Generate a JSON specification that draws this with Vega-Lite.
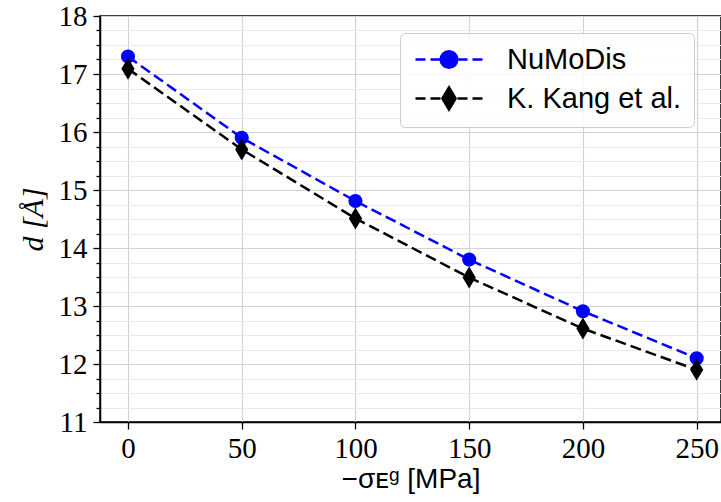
{
  "$schema": "https://vega.github.io/schema/vega-lite/v6.json",
  "width": 621,
  "height": 406,
  "autosize": "none",
  "padding": {"left": 100, "top": 16, "right": 0, "bottom": 80},
  "background": "white",
  "config": {
    "view": {"stroke": "black", "strokeWidth": 1.5},
    "axis": {
      "domainColor": "black", "domainWidth": 1.5,
      "tickColor": "black", "tickWidth": 1.3,
      "labelFont": "Liberation Serif", "labelFontSize": 29, "labelColor": "black",
      "titleFont": "Liberation Sans", "titleFontSize": 28, "titleColor": "black", "titleFontWeight": "normal"
    }
  },
  "data": {"values": [
    {"x": 0, "d": 17.3, "series": "NuMoDis"},
    {"x": 50, "d": 15.9, "series": "NuMoDis"},
    {"x": 100, "d": 14.81, "series": "NuMoDis"},
    {"x": 150, "d": 13.8, "series": "NuMoDis"},
    {"x": 200, "d": 12.91, "series": "NuMoDis"},
    {"x": 250, "d": 12.1, "series": "NuMoDis"},
    {"x": 0, "d": 17.09, "series": "K. Kang et al."},
    {"x": 50, "d": 15.7, "series": "K. Kang et al."},
    {"x": 100, "d": 14.51, "series": "K. Kang et al."},
    {"x": 150, "d": 13.49, "series": "K. Kang et al."},
    {"x": 200, "d": 12.61, "series": "K. Kang et al."},
    {"x": 250, "d": 11.9, "series": "K. Kang et al."}
  ]},
  "encoding": {
    "x": {
      "field": "x", "type": "quantitative",
      "scale": {"domain": [-12.3, 260.7], "nice": false, "zero": false},
      "axis": {
        "values": [0, 50, 100, 150, 200, 250],
        "format": "d",
        "labelFont": "Liberation Serif", "labelFontSize": 29,
        "title": "−σᴇᵍ [MPa]",
        "titleFont": "Liberation Sans", "titleFontSize": 28,
        "grid": true, "gridColor": "#d2d2d2", "gridWidth": 1.2,
        "tickSize": 7, "labelPadding": 5, "titlePadding": 2
      }
    },
    "y": {
      "field": "d", "type": "quantitative",
      "scale": {"domain": [11, 18], "nice": false, "zero": false},
      "axis": {
        "values": [11, 11.25, 11.5, 11.75, 12, 12.25, 12.5, 12.75, 13, 13.25, 13.5, 13.75, 14, 14.25, 14.5, 14.75, 15, 15.25, 15.5, 15.75, 16, 16.25, 16.5, 16.75, 17, 17.25, 17.5, 17.75, 18],
        "labelExpr": "datum.value % 1 === 0 ? format(datum.value, 'd') : ''",
        "labelFont": "Liberation Serif", "labelFontSize": 29,
        "title": "d [Å]", "titleFont": "Liberation Serif", "titleFontStyle": "italic", "titleFontSize": 30,
        "grid": true,
        "gridColor": {"condition": {"test": "datum.value % 1 === 0", "value": "#d2d2d2"}, "value": "#ebebeb"},
        "gridWidth": 1.2,
        "tickSize": {"condition": {"test": "datum.value % 1 === 0", "value": 7}, "value": 4},
        "labelPadding": 6, "titlePadding": 10
      }
    },
    "color": {
      "field": "series", "type": "nominal",
      "scale": {"domain": ["NuMoDis", "K. Kang et al."], "range": ["#0000ff", "#000000"]},
      "legend": {
        "title": null,
        "orient": "none", "legendX": 300, "legendY": 17,
        "symbolSize": 484,
        "symbolStrokeWidth": 2.5,
        "labelFont": "Liberation Sans", "labelFontSize": 29, "labelColor": "black",
        "labelLimit": 0,
        "labelOffset": 66,
        "padding": 12,
        "rowPadding": 7,
        "fillColor": "rgba(255,255,255,0.85)",
        "strokeColor": "#cccccc",
        "cornerRadius": 5,
        "encode": {
          "symbols": {
            "update": {
              "shape": {"signal": "datum.value === 'NuMoDis' ? 'M-1,0H-0.09M0.36,0H1.27M2.82,0H3.73M4.18,0H5.09M2.8,0A0.755,0.755 0 1,1 1.29,0A0.755,0.755 0 1,1 2.8,0Z' : 'M-1,0H-0.09M0.36,0H1.27M2.82,0H3.73M4.18,0H5.09M2.045,-1L2.645,0L2.045,1L1.445,0Z'"},
              "fill": {"signal": "datum.value === 'NuMoDis' ? '#0000ff' : '#000000'"},
              "stroke": {"signal": "datum.value === 'NuMoDis' ? '#0000ff' : '#000000'"},
              "strokeWidth": {"value": 2.5},
              "opacity": {"value": 1}
            }
          }
        }
      }
    }
  },
  "layer": [
    {"mark": {"type": "line", "strokeDash": [11, 5], "strokeWidth": 2.5}},
    {
      "transform": [{"filter": "datum.series === 'NuMoDis'"}],
      "mark": {"type": "point", "shape": "circle", "filled": true, "opacity": 1, "size": 200}
    },
    {
      "transform": [{"filter": "datum.series === 'K. Kang et al.'"}],
      "mark": {"type": "point", "shape": "M0,-1L0.6,0L0,1L-0.6,0Z", "filled": true, "opacity": 1, "size": 484}
    }
  ]
}
